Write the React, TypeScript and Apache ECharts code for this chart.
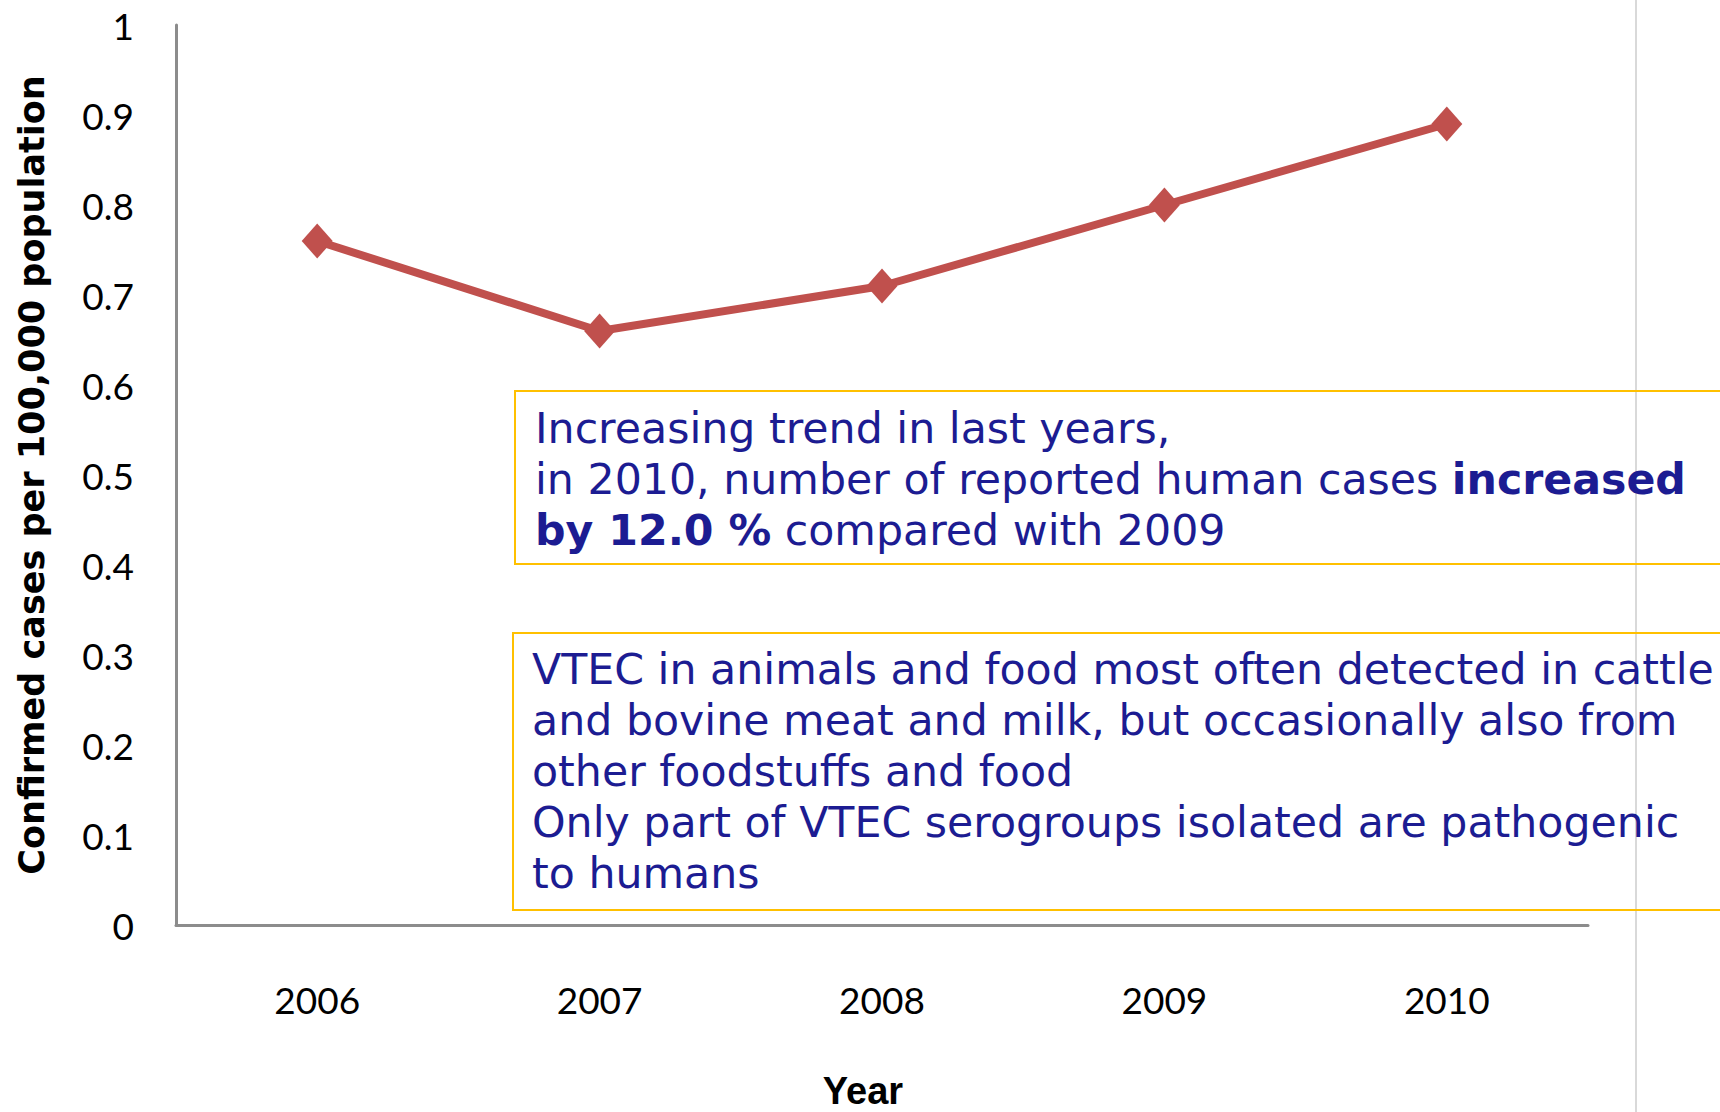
import React, { useEffect, useRef } from "react";
import * as echarts from "echarts";

const years = ["2006", "2007", "2008", "2009", "2010"];
const rates = [0.76, 0.66, 0.71, 0.8, 0.89];
const yTicks = { min: 0, max: 1, interval: 0.1 };

const box1Lines = [
  "Increasing trend in last years,",
  "in 2010, number of reported human cases {b|increased}",
  "{b|by 12.0 %} compared with 2009",
];
const box2Lines = [
  "VTEC in animals and food most often detected in cattle",
  "and bovine meat and milk, but occasionally also from",
  "other foodstuffs and food",
  "Only part of VTEC serogroups isolated are pathogenic",
  "to humans",
];

const TEXT_COLOR = "#1c1c92";
const TEXT_FONT = "'DejaVu Sans', Verdana, sans-serif";
const TEXT_SIZE = 42.7;
const LINE_H = 51;

export default function App() {
  const ref = useRef<HTMLDivElement>(null);
  useEffect(() => {
    if (!ref.current) return;
    const chart = echarts.init(ref.current, undefined, { renderer: "svg" });
    const richB = {
      b: {
        fontWeight: "bold",
        fontSize: TEXT_SIZE,
        fontFamily: TEXT_FONT,
        fill: TEXT_COLOR,
        lineHeight: LINE_H,
      },
    };
    chart.setOption({
      animation: false,
      backgroundColor: "#ffffff",
      grid: {
        left: 176,
        right: 132,
        top: 25,
        bottom: 187,
        containLabel: false,
        outerBoundsMode: "none",
      },
      xAxis: {
        type: "category",
        data: years,
        boundaryGap: true,
        axisLine: { show: true, lineStyle: { color: "#8c8c8c", width: 3 } },
        axisTick: { show: false },
        axisLabel: {
          margin: 56,
          fontSize: 37,
          fontFamily: "Lato, 'Open Sans', sans-serif",
          color: "#000000",
        },
        name: "Year",
        nameLocation: "middle",
        nameGap: 147,
        nameTextStyle: {
          fontSize: 38,
          fontWeight: "bold",
          fontFamily: "'Liberation Sans', Arial, sans-serif",
          color: "#000000",
          padding: [0, 38, 0, 0],
        },
      },
      yAxis: {
        type: "value",
        min: yTicks.min,
        max: yTicks.max,
        interval: yTicks.interval,
        splitLine: { show: false },
        axisLine: { show: true, lineStyle: { color: "#8c8c8c", width: 3 } },
        axisTick: { show: false },
        axisLabel: {
          margin: 42,
          fontSize: 37,
          fontFamily: "Lato, 'Open Sans', sans-serif",
          color: "#000000",
        },
        name: "Confirmed cases per 100,000 population",
        nameLocation: "middle",
        nameGap: 127,
        nameRotate: 90,
        nameTextStyle: {
          fontSize: 35,
          fontWeight: "bold",
          fontFamily: "'DejaVu Sans', Verdana, sans-serif",
          color: "#000000",
        },
      },
      series: [
        {
          type: "line",
          data: rates,
          symbol: "diamond",
          symbolSize: [31, 35],
          lineStyle: { color: "#c0504d", width: 8 },
          itemStyle: { color: "#c0504d" },
          z: 3,
        },
      ],
      graphic: [
        {
          type: "line",
          shape: { x1: 1636, y1: 0, x2: 1636, y2: 1112 },
          style: { stroke: "#d9d9d9", lineWidth: 2 },
          z: 1,
        },
        {
          type: "rect",
          shape: { x: 515, y: 391, width: 1300, height: 173 },
          style: { fill: "none", stroke: "#ffc000", lineWidth: 2 },
          z: 2,
        },
        {
          type: "text",
          x: 535,
          y: 428 - LINE_H / 2,
          style: {
            text: box1Lines.join("\n"),
            fontSize: TEXT_SIZE,
            fontFamily: TEXT_FONT,
            fill: TEXT_COLOR,
            lineHeight: LINE_H,
            verticalAlign: "top",
            rich: richB,
          },
          z: 3,
        },
        {
          type: "rect",
          shape: { x: 513, y: 633, width: 1300, height: 277 },
          style: { fill: "none", stroke: "#ffc000", lineWidth: 2 },
          z: 2,
        },
        {
          type: "text",
          x: 532,
          y: 669 - LINE_H / 2,
          style: {
            text: box2Lines.join("\n"),
            fontSize: TEXT_SIZE,
            fontFamily: TEXT_FONT,
            fill: TEXT_COLOR,
            lineHeight: LINE_H,
            verticalAlign: "top",
          },
          z: 3,
        },
      ],
    });
    return () => chart.dispose();
  }, []);
  return (
    <div
      ref={ref}
      style={{ position: "fixed", left: 0, top: 0, width: 1720, height: 1112 }}
    />
  );
}
